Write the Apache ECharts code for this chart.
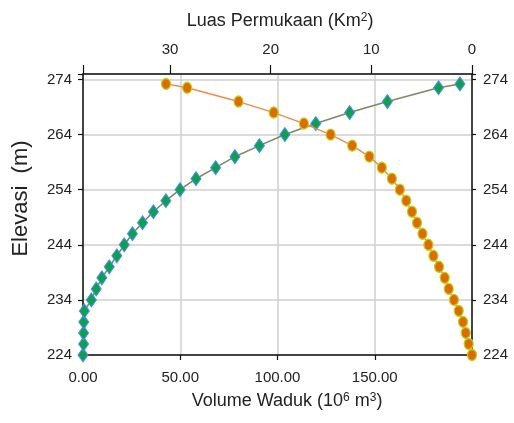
<!DOCTYPE html>
<html>
<head>
<meta charset="utf-8">
<script src="https://cdn.jsdelivr.net/npm/echarts@6/dist/echarts.min.js"></script>
<style>
  html, body { margin: 0; padding: 0; background: #fff; }
  #chart { width: 514px; height: 423px; }
</style>
</head>
<body>
<div id="chart"></div>
<script>
// Elevation levels (m) shared by both curves
const elevations = [224, 226, 228, 230, 232, 234, 236, 238, 240, 242, 244, 246, 248,
                    250, 252, 254, 256, 258, 260, 262, 264, 266, 268, 270, 272.5, 273.2];
// Reservoir volume (10^6 m3) at each elevation
const volumes = [0, 0.3, 0.3, 0.4, 0.7, 4.3, 6.8, 9.7, 13.5, 17.4, 21.2, 25.4, 30.6,
                 36.2, 42.6, 49.9, 58.1, 68.2, 78.1, 90.7, 103.8, 119.7, 137.1, 156.5, 182.8, 193.8];
// Surface area (km2) at each elevation
const areas = [0, 0.33, 0.62, 0.89, 1.32, 1.79, 2.31, 2.71, 3.27, 3.83, 4.33, 4.92, 5.46,
               5.96, 6.53, 7.17, 7.96, 8.96, 10.2, 11.9, 14.05, 16.7, 19.7, 23.2, 28.3, 30.4];
// Axis tick settings
const volumeTicks = { min: 0, max: 200, interval: 50 };
const areaTicks = { min: 0, max: 38.65, interval: 10 };
const elevTicks = { min: 224, max: 275, interval: 10 };

const volumeData = elevations.map((e, i) => [volumes[i], e]);
const areaData = elevations.map((e, i) => [areas[i], e]);

const FONT = '"Liberation Sans Narrow", "Liberation Sans", Arial, sans-serif';
const axisCol = '#111';
const labelStyle = { color: '#222', fontFamily: FONT, fontSize: 15 };

function onTick(t) {
  return v => (Math.abs((v - t.min) / t.interval - Math.round((v - t.min) / t.interval)) < 1e-6);
}
const volOnTick = onTick(volumeTicks);
const areaOnTick = onTick(areaTicks);
const elevOnTick = onTick(elevTicks);

const chart = echarts.init(document.getElementById('chart'), null, { renderer: 'canvas' });
chart.setOption({
  animation: false,
  backgroundColor: '#fff',
  grid: { left: 83, right: 42, top: 74, bottom: 68, containLabel: false, outerBoundsMode: 'none' },
  xAxis: [
    {
      type: 'value', position: 'bottom',
      min: volumeTicks.min, max: volumeTicks.max, interval: volumeTicks.interval,
      name: 'Volume Waduk (10{s|6} m{s|3})',
      nameLocation: 'middle', nameGap: 37,
      nameTextStyle: {
        color: '#222', fontFamily: FONT, fontSize: 18, padding: [0, 0, 0, 19],
        rich: { s: { fontFamily: FONT, fontSize: 12, verticalAlign: 'top', color: '#222' } }
      },
      axisLine: { show: true, lineStyle: { color: axisCol, width: 1.5 } },
      axisTick: { show: true, inside: false, length: 5, lineStyle: { color: axisCol, width: 1.2 } },
      axisLabel: Object.assign({ margin: 15, formatter: v => (volOnTick(v) && v < volumeTicks.max ? v.toFixed(2) : '') }, labelStyle),
      splitLine: { show: true, lineStyle: { color: '#cfcfcf', width: 1.5 } }
    },
    {
      type: 'value', position: 'top', inverse: true,
      min: areaTicks.min, max: areaTicks.max, interval: areaTicks.interval,
      name: 'Luas Permukaan (Km{s|2})',
      nameLocation: 'middle', nameGap: 44,
      nameTextStyle: {
        color: '#222', fontFamily: FONT, fontSize: 18, padding: [0, 0, 0, 5],
        rich: { s: { fontFamily: FONT, fontSize: 12, verticalAlign: 'top', color: '#222' } }
      },
      axisLine: { show: true, lineStyle: { color: axisCol, width: 1.5 } },
      axisTick: { show: true, inside: false, length: 9, lineStyle: { color: axisCol, width: 1.2 } },
      axisLabel: Object.assign({ margin: 17, formatter: v => (areaOnTick(v) ? String(v) : '') }, labelStyle),
      splitLine: { show: false }
    }
  ],
  yAxis: [
    {
      type: 'value', position: 'left',
      min: elevTicks.min, max: elevTicks.max, interval: elevTicks.interval,
      name: 'Elevasi  (m)',
      nameLocation: 'middle', nameGap: 51,
      nameTextStyle: { color: '#222', fontFamily: FONT, fontSize: 22, padding: [0, 0, 0, 32] },
      axisLine: { show: true, lineStyle: { color: axisCol, width: 1.5 } },
      axisTick: { show: true, inside: false, length: 5, lineStyle: { color: axisCol, width: 1.2 } },
      axisLabel: Object.assign({ margin: 11, formatter: v => (elevOnTick(v) ? String(v) : '') }, labelStyle),
      splitLine: { show: true, lineStyle: { color: '#cfcfcf', width: 1.5 } }
    },
    {
      type: 'value', position: 'right',
      min: elevTicks.min, max: elevTicks.max, interval: elevTicks.interval,
      axisLine: { show: true, lineStyle: { color: axisCol, width: 1.5 } },
      axisTick: { show: true, inside: false, length: 4, lineStyle: { color: axisCol, width: 1.2 } },
      axisLabel: Object.assign({ margin: 11, formatter: v => (elevOnTick(v) ? String(v) : '') }, labelStyle),
      splitLine: { show: false }
    }
  ],
  series: [
    {
      name: 'Volume Waduk',
      type: 'line',
      xAxisIndex: 0, yAxisIndex: 0,
      data: volumeData,
      symbol: 'diamond',
      symbolSize: [10, 14],
      showAllSymbol: true,
      lineStyle: { color: '#7c8a62', width: 1.6 },
      itemStyle: { color: '#0fa04c', borderColor: '#4a8cff', borderWidth: 1 },
      z: 3
    },
    {
      name: 'Luas Permukaan',
      type: 'line',
      xAxisIndex: 1, yAxisIndex: 0,
      data: areaData,
      symbol: 'circle',
      symbolSize: [9, 11],
      showAllSymbol: true,
      lineStyle: { color: '#f2884a', width: 1.4 },
      itemStyle: { color: '#e06a00', borderColor: '#b9d21a', borderWidth: 1.3 },
      z: 4
    }
  ]
});
</script>
</body>
</html>
